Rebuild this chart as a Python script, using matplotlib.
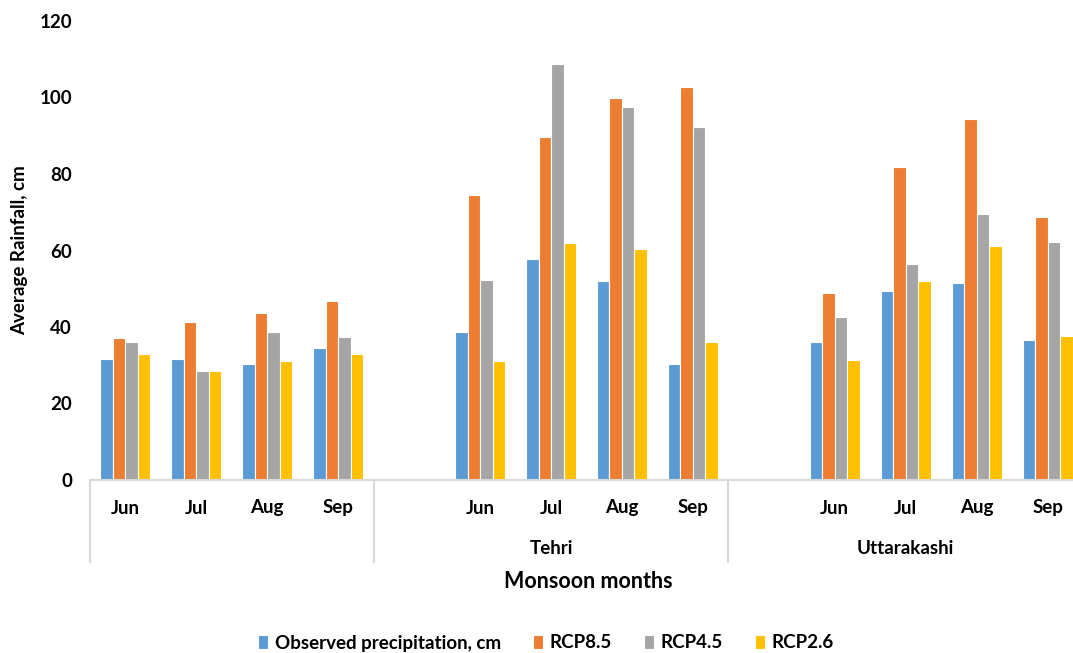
import numpy as np
import matplotlib
matplotlib.use('Agg')
import matplotlib.pyplot as plt

plt.rcParams['font.family'] = ['Lato', 'DejaVu Sans']
plt.rcParams['font.weight'] = 'bold'

# data
months = ['Jun', 'Jul', 'Aug', 'Sep']
regions = ['', 'Tehri', 'Uttarakashi']
series_names = ['Observed precipitation, cm', 'RCP8.5', 'RCP4.5', 'RCP2.6']
observed = [31.7, 31.7, 30.2, 34.4, 38.8, 57.9, 51.9, 30.2, 36.1, 49.3, 51.4, 36.7]
rcp85 = [37.0, 41.4, 43.7, 46.7, 74.6, 89.6, 99.8, 102.7, 48.8, 81.7, 94.4, 68.8]
rcp45 = [36.2, 28.5, 38.8, 37.3, 52.2, 108.7, 97.4, 92.2, 42.5, 56.4, 69.6, 62.2]
rcp26 = [32.9, 28.5, 31.1, 32.9, 31.1, 61.9, 60.5, 36.1, 31.4, 51.9, 61.3, 37.6]
colors = ['#5B9BD5', '#ED7D31', '#A5A5A5', '#FFC000']

# category positions: 4 months per region, with one blank slot between regions
pos = []
for r in range(len(regions)):
    for m in range(len(months)):
        pos.append(r * 5 + m)
pos = np.array(pos, dtype=float)

fig = plt.figure(figsize=(10.73, 6.53), dpi=100)
ax = fig.add_axes([90 / 1073, 1 - 480 / 653, 993 / 1073, 459 / 653])

w = 0.176
for i, (vals, col, name) in enumerate(zip([observed, rcp85, rcp45, rcp26], colors, series_names)):
    ax.bar(pos + (i - 1.5) * w, vals, width=w, color=col, edgecolor='white',
           linewidth=0.8, label=name)

ax.set_xlim(-0.5, 13.5)
ax.set_ylim(0, 120)
ax.set_yticks(np.arange(0, 121, 20))
ax.tick_params(axis='y', length=0, pad=13, labelsize=13.5)
for lab in ax.get_yticklabels():
    lab.set_fontweight('bold')
ax.set_xticks([])

for s in ['top', 'right', 'left']:
    ax.spines[s].set_visible(False)
ax.spines['bottom'].set_color('#D9D9D9')
ax.spines['bottom'].set_linewidth(1.5)

# month labels
for p, m in zip(pos, months * len(regions)):
    ax.annotate(m, xy=(p, 0), xycoords=('data', 'axes fraction'),
                xytext=(0, -28), textcoords='offset pixels',
                ha='center', va='center', fontsize=13.5, fontweight='bold')

# region labels and separators
starts = [-0.5, 3.5, 8.5, 13.5]
for r, name in enumerate(regions):
    centre = (starts[r] + starts[r + 1]) / 2
    ax.annotate(name, xy=(centre, 0), xycoords=('data', 'axes fraction'),
                xytext=(0, -69), textcoords='offset pixels',
                ha='center', va='center', fontsize=13.5, fontweight='bold')
for s in starts:
    ax.plot([s, s], [0, -82 / 459], transform=ax.get_xaxis_transform(),
            color='#D9D9D9', linewidth=1.5, clip_on=False)

fig.text(588 / 1073, 1 - 581 / 653, 'Monsoon months', ha='center', va='center',
         fontsize=15.5, fontweight='bold')
fig.text(20 / 1073, 1 - 250 / 653, 'Average Rainfall, cm', ha='center', va='center',
         rotation=90, fontsize=13.5, fontweight='bold')

fig.legend(loc='center', bbox_to_anchor=(546 / 1073, 1 - 643 / 653), ncol=4,
           frameon=False, handlelength=0.55, handleheight=0.8, handletextpad=0.35,
           columnspacing=1.7, prop={'size': 13.5, 'weight': 'bold'})

fig.savefig('out.png', dpi=100)
